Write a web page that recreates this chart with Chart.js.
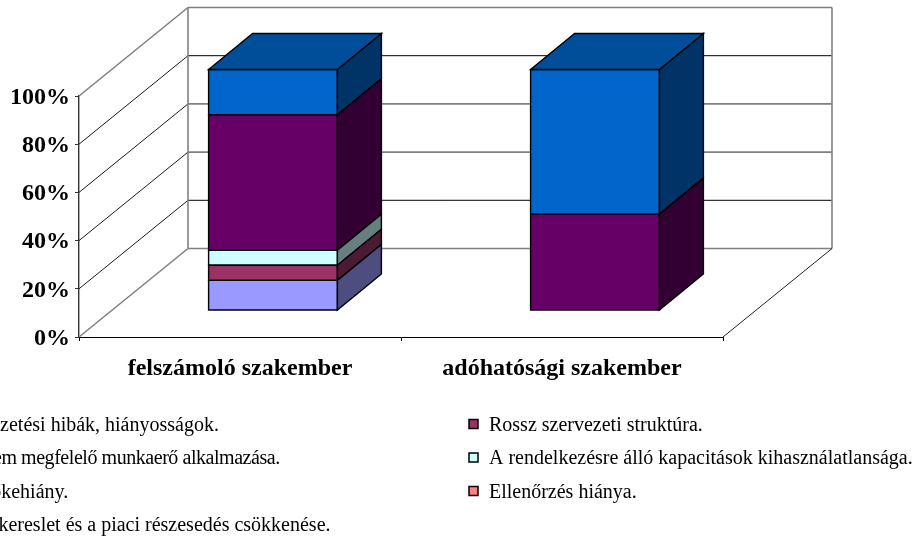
<!DOCTYPE html>
<html>
<head>
<meta charset="utf-8">
<style>
  html, body { margin: 0; padding: 0; background: #fff; overflow: hidden; }
  canvas { display: block; }
</style>
<script src="https://cdn.jsdelivr.net/npm/chart.js@4"></script>
</head>
<body>
<canvas id="chart" width="915" height="537"></canvas>
<script>
const categories = ['felszámoló szakember', 'adóhatósági szakember'];
const yTicks = [0, 20, 40, 60, 80, 100];

const seriesNames = [
    'Vezetési hibák, hiányosságok.',
    'Rossz szervezeti struktúra.',
    'Nem megfelelő munkaerő alkalmazása.',
    'A rendelkezésre álló kapacitások kihasználatlansága.',
    'Tőkehiány.',
    'Ellenőrzés hiánya.',
    'A kereslet és a piaci részesedés csökkenése.'
];
const vezetes = [12.5, 0];
const struktura = [6.25, 0];
const munkaero = [0, 0];
const kapacitas = [6.25, 0];
const tokehiany = [56.25, 40];
const ellenorzes = [0, 0];
const kereslet = [18.75, 60];
const seriesValues = [vezetes, struktura, munkaero, kapacitas, tokehiany, ellenorzes, kereslet];

const seriesColors = ['#9999FF', '#993366', '#FFFFCC', '#CCFFFF', '#660066', '#FF8080', '#0066CC'];

const SERIF = '"Liberation Serif", "Times New Roman", serif';
const WALL_DX = 109, WALL_DY = -88.5;   // depth of the floor
const BAR_DX = 33, BAR_DY = -26.5;      // bars sit in the middle of the depth
const BAR_DEPTH_X = 44, BAR_DEPTH_Y = -36;

function shade(hex, k) {
    const n = parseInt(hex.slice(1), 16);
    const c = [(n >> 16) & 255, (n >> 8) & 255, n & 255].map(v => Math.round(v * k));
    return `rgb(${c[0]}, ${c[1]}, ${c[2]})`;
}

function line(ctx, x1, y1, x2, y2, color, width) {
    ctx.strokeStyle = color;
    ctx.lineWidth = width;
    ctx.beginPath();
    ctx.moveTo(x1, y1);
    ctx.lineTo(x2, y2);
    ctx.stroke();
}

function face(ctx, pts, color) {
    ctx.beginPath();
    pts.forEach((p, i) => i ? ctx.lineTo(p[0], p[1]) : ctx.moveTo(p[0], p[1]));
    ctx.closePath();
    if (color) {
        ctx.fillStyle = color;
        ctx.fill();
    }
    ctx.strokeStyle = '#000';
    ctx.lineWidth = 1.4;
    ctx.stroke();
}

// back wall, left wall and floor of the 3D box
const wallsPlugin = {
    id: 'walls',
    beforeDatasetsDraw(chart) {
        const { ctx, scales: { x, y } } = chart;
        const left = x.left, right = x.right;
        ctx.save();
        yTicks.forEach(v => {
            const py = y.getPixelForValue(v);
            const edge = v === 0 || v === 100;
            const strong = edge || v === 40 || v === 60;
            line(ctx, left, py, left + WALL_DX, py + WALL_DY, edge ? '#808080' : '#000', edge ? 1.6 : 0.9);
            line(ctx, left + WALL_DX, py + WALL_DY, right + WALL_DX, py + WALL_DY, strong ? '#808080' : '#000', strong ? 1.6 : 1);
        });
        const top = y.getPixelForValue(100), bottom = y.getPixelForValue(0);
        line(ctx, left + WALL_DX, top + WALL_DY, left + WALL_DX, bottom + WALL_DY, '#808080', 1.6);
        line(ctx, right + WALL_DX, top + WALL_DY, right + WALL_DX, bottom + WALL_DY, '#808080', 1.6);
        line(ctx, right, bottom, right + WALL_DX, bottom + WALL_DY, '#222', 1);
        ctx.restore();
    },
    // the library draws the front faces, moved back into the box
    beforeDatasetDraw(chart) {
        chart.ctx.save();
        chart.ctx.translate(BAR_DX, BAR_DY);
    },
    afterDatasetDraw(chart, args) {
        const ctx = chart.ctx;
        const color = seriesColors[args.index];
        args.meta.data.forEach((bar, i) => {
            if (!seriesValues[args.index][i]) return;
            const { x, y, base, width } = bar.getProps(['x', 'y', 'base', 'width'], true);
            const r = x + width / 2, l = x - width / 2;
            face(ctx, [[l, y], [r, y], [r, base], [l, base]]);
            face(ctx, [[r, y], [r + BAR_DEPTH_X, y + BAR_DEPTH_Y], [r + BAR_DEPTH_X, base + BAR_DEPTH_Y], [r, base]], shade(color, 0.5));
            const isTop = !seriesValues.slice(args.index + 1).some(s => s[i]);
            if (isTop) {
                face(ctx, [[l, y], [l + BAR_DEPTH_X, y + BAR_DEPTH_Y], [r + BAR_DEPTH_X, y + BAR_DEPTH_Y], [r, y]], shade(color, 0.75));
            }
        });
        ctx.restore();
    }
};

// two column legend, the left column runs past the edge of the picture as in the original
const legendPlugin = {
    id: 'twoColumnLegend',
    afterDraw(chart) {
        const ctx = chart.ctx;
        ctx.save();
        ctx.font = '20px ' + SERIF;
        ctx.textBaseline = 'middle';
        ctx.textAlign = 'left';
        seriesNames.forEach((name, i) => {
            const col = i % 2, row = Math.floor(i / 2);
            const bx = -41 + col * 510, by = 419.5 + row * 33.5;
            ctx.fillStyle = seriesColors[i];
            ctx.strokeStyle = '#000';
            ctx.lineWidth = 1.5;
            ctx.fillRect(bx, by, 9, 9);
            ctx.strokeRect(bx, by, 9, 9);
            ctx.fillStyle = '#000';
            ctx.letterSpacing = i === 2 ? '-0.45px' : '0px'; // this row is set tighter in the original
            ctx.fillText(name, bx + 20, by + 6);
        });
        ctx.restore();
    }
};

new Chart(document.getElementById('chart'), {
    type: 'bar',
    data: {
        labels: categories,
        datasets: seriesNames.map((name, i) => ({
            label: name,
            data: seriesValues[i],
            backgroundColor: seriesColors[i],
            borderWidth: 0,
            clip: false,
            barPercentage: 0.4,
            categoryPercentage: 1
        }))
    },
    options: {
        responsive: false,
        animation: false,
        layout: { padding: { top: 96, right: 192, bottom: 0, left: 0 } },
        plugins: { legend: { display: false }, tooltip: { enabled: false } },
        scales: {
            x: {
                stacked: true,
                afterFit: s => { s.height = 200; },
                grid: { drawOnChartArea: false, color: '#000', tickLength: 4, offset: true },
                border: { color: '#000', width: 1 },
                ticks: {
                    maxRotation: 0,
                    padding: 13,
                    color: '#000',
                    font: { family: SERIF, size: 24, weight: 'bold' }
                }
            },
            y: {
                stacked: true,
                min: 0,
                max: 100,
                afterFit: s => { s.width = 79; },
                afterBuildTicks: s => { s.ticks = yTicks.map(v => ({ value: v })); },
                grid: { drawOnChartArea: false, color: '#333', tickLength: 4 },
                border: { color: '#333', width: 1.4 },
                ticks: {
                    padding: 5,
                    labelOffset: 1.5,
                    color: '#000',
                    callback: v => v + '%',
                    font: { family: SERIF, size: 24, weight: 'bold' }
                }
            }
        }
    },
    plugins: [wallsPlugin, legendPlugin]
});
</script>
</body>
</html>
